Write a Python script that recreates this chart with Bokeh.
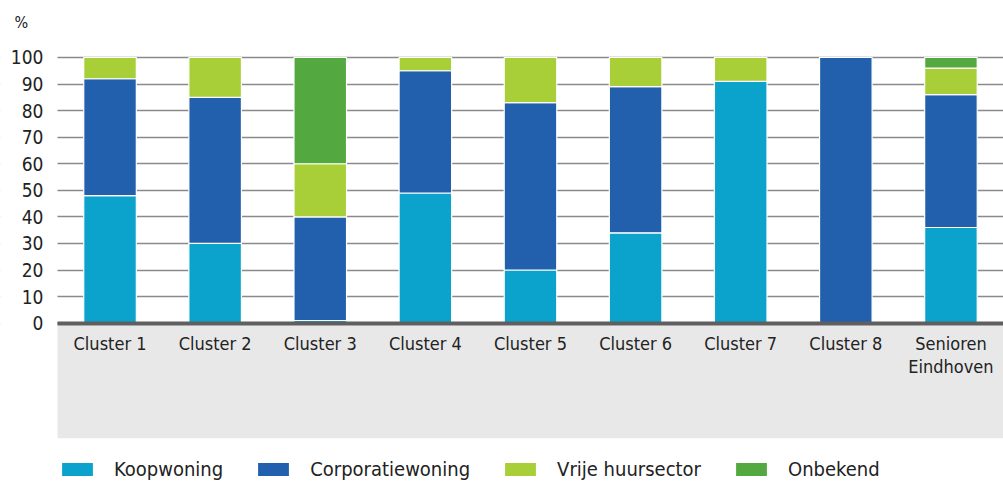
from bokeh.plotting import figure
from bokeh.models import Range1d, FixedTicker, Legend, LegendItem, ColumnDataSource
from bokeh.core.properties import value
from bokeh.embed import file_html
from bokeh.resources import INLINE

categories = ["Cluster 1", "Cluster 2", "Cluster 3", "Cluster 4", "Cluster 5",
              "Cluster 6", "Cluster 7", "Cluster 8", "Senioren\nEindhoven"]
koopwoning = [48, 30, 1, 49, 20, 34, 91, 0, 36]
corporatiewoning = [44, 55, 39, 46, 63, 55, 0, 100, 50]
vrije_huursector = [8, 15, 20, 5, 17, 11, 9, 0, 10]
onbekend = [0, 0, 40, 0, 0, 0, 0, 0, 4]
series_names = ["Koopwoning", "Corporatiewoning", "Vrije huursector", "Onbekend"]
colors = ["#0ba3cb", "#225fac", "#a8cf38", "#53a940"]
y_ticks = [0, 10, 20, 30, 40, 50, 60, 70, 80, 90, 100]
unit_label = "%"

FONT = "DejaVu Sans Condensed"
n = len(categories)
xpos = [i + 0.5 for i in range(n)]

src = ColumnDataSource(dict(x=xpos, k=koopwoning, c=corporatiewoning,
                            v=vrije_huursector, o=onbekend))

p = figure(x_range=Range1d(-0.542, n), y_range=Range1d(-59.6, 121.45),
           width=1003, height=481, output_backend="svg", toolbar_location=None,
           min_border_left=0, min_border_right=0, min_border_top=0, min_border_bottom=0,
           outline_line_color=None)

# white margin left of the plot area (hides grid lines under tick labels)
p.quad(left=[-2], right=[0], bottom=[-1], top=[101], fill_color="white", line_color=None)
# grey label band below the baseline
p.quad(left=[0], right=[n], bottom=[-43.3], top=[-0.8],
       fill_color="#e8e8e8", line_color=None)

rs = p.vbar_stack(["k", "c", "v", "o"], x="x", width=0.5, source=src,
                  fill_color=colors, line_color="white", line_width=1.2)

# unit label
p.text(x=[-0.41], y=[113.3], text=[unit_label], text_font=value(FONT), text_font_size="16px",
       text_color="#222222", text_align="left", text_baseline="middle")

# x axis at y = 0
p.xaxis.fixed_location = 0
p.xaxis.bounds = (0, n)
p.xaxis.ticker = FixedTicker(ticks=xpos)
p.xaxis.major_label_overrides = {x: c for x, c in zip(xpos, categories)}
p.xaxis.axis_line_color = "#5f5f5f"
p.xaxis.axis_line_width = 4
p.xaxis.major_tick_line_color = None
p.xaxis.minor_tick_line_color = None
p.xaxis.major_label_standoff = 4
p.xaxis.major_label_text_font = FONT
p.xaxis.major_label_text_font_size = "18px"
p.xaxis.major_label_text_color = "#222222"
p.xaxis.major_label_text_line_height = 1.1

# y axis at left edge of bars area
p.yaxis.fixed_location = 0
p.yaxis.bounds = (0, 100)
p.yaxis.ticker = FixedTicker(ticks=y_ticks)
p.yaxis.axis_line_color = None
p.yaxis.major_tick_line_color = None
p.yaxis.minor_tick_line_color = None
p.yaxis.major_label_standoff = 8
p.yaxis.major_label_text_font = FONT
p.yaxis.major_label_text_font_size = "19px"
p.yaxis.major_label_text_color = "#222222"

p.xgrid.grid_line_color = None
p.ygrid.ticker = FixedTicker(ticks=y_ticks)
p.ygrid.grid_line_color = "#8a8a8a"
p.ygrid.grid_line_width = 1.6

legend = Legend(items=[LegendItem(label=s, renderers=[r]) for s, r in zip(series_names, rs)],
                orientation="horizontal", location=(57, 0),
                glyph_width=40, glyph_height=18, label_standoff=17, spacing=30,
                padding=0, margin=0, border_line_color=None, background_fill_alpha=0,
                label_text_font=FONT, label_text_font_size="20px", label_text_color="#222222")
p.add_layout(legend)

open("out.html", "w").write(file_html(p, INLINE))
